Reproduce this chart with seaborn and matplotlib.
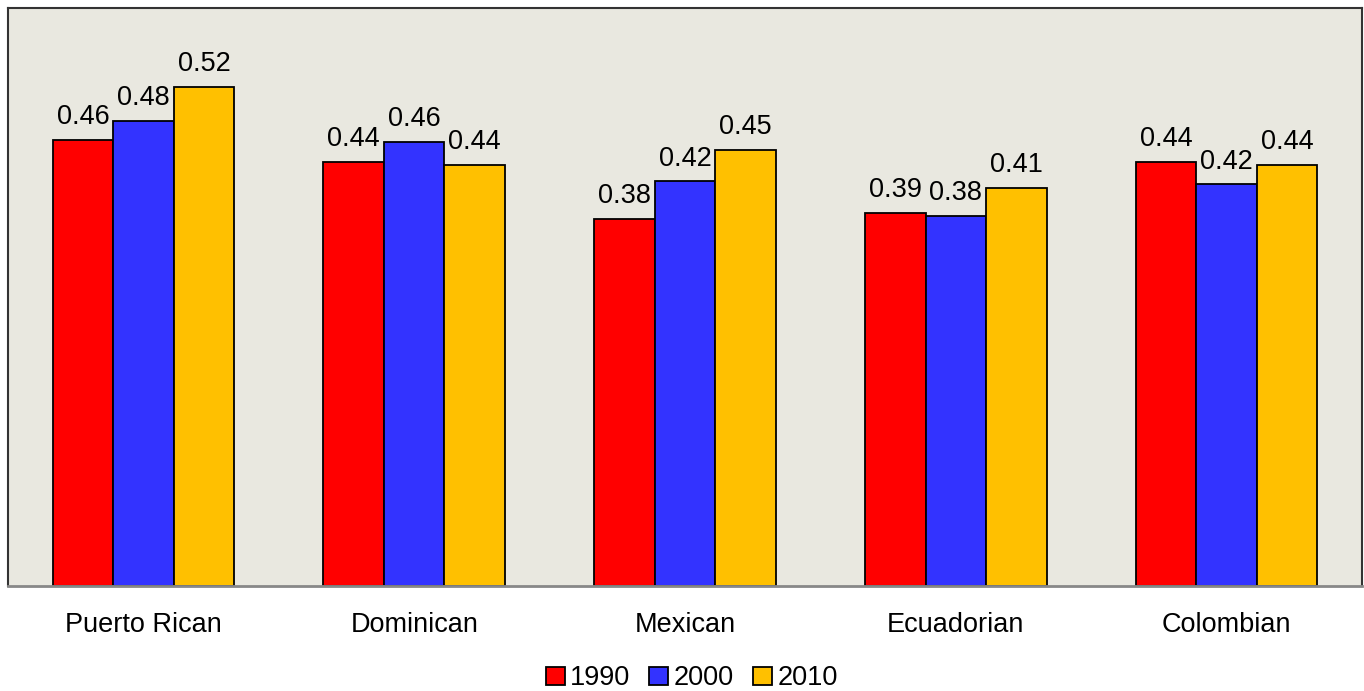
import matplotlib
matplotlib.use("Agg")
import matplotlib.pyplot as plt
import seaborn as sns
import pandas as pd

# data
groups = ['Puerto Rican', 'Dominican', 'Mexican', 'Ecuadorian', 'Colombian']
years = ['1990', '2000', '2010']
v1990 = [0.463, 0.440, 0.381, 0.387, 0.440]
v2000 = [0.483, 0.461, 0.420, 0.384, 0.417]
v2010 = [0.518, 0.437, 0.453, 0.413, 0.437]
colors = ['#FF0000', '#3333FF', '#FFC000']

rows = []
for yr, vals in zip(years, [v1990, v2000, v2010]):
    for g, v in zip(groups, vals):
        rows.append({'group': g, 'year': yr, 'value': v})
df = pd.DataFrame(rows)

sns.set_style('white')
plt.rcParams['font.family'] = ['Liberation Sans', 'DejaVu Sans']
plt.rcParams['text.color'] = 'black'
plt.rcParams['xtick.color'] = 'black'

fig = plt.figure(figsize=(13.64, 6.91), dpi=100)
ax = fig.add_axes([8/1364, 105/691, 1354/1364, 578/691])
ax.set_facecolor('#E9E8E0')

sns.barplot(data=df, x='group', y='value', hue='year', palette=colors,
            saturation=1, width=0.67, edgecolor='black', linewidth=1.3,
            ax=ax, legend=True)

for c in ax.containers:
    ax.bar_label(c, fmt='%.2f', padding=7, fontsize=19.5, color='black')

ax.set_ylim(0, 0.6)
ax.set_xlim(-0.5, 4.5)
ax.set_yticks([])
ax.set_xlabel('')
ax.set_ylabel('')
ax.tick_params(axis='x', length=0, labelsize=19.5, pad=19, labelcolor='black')

for s in ['left', 'top', 'right']:
    ax.spines[s].set_color('#333333')
    ax.spines[s].set_linewidth(1.5)
ax.spines['bottom'].set_color('#888888')
ax.spines['bottom'].set_linewidth(2)

leg = ax.legend(loc='center', bbox_to_anchor=(0.505, -0.16), ncol=3,
                frameon=False, fontsize=19.5, handlelength=0.7, handleheight=0.7,
                handletextpad=0.2, columnspacing=0.7)

fig.savefig('out.png', dpi=100)
